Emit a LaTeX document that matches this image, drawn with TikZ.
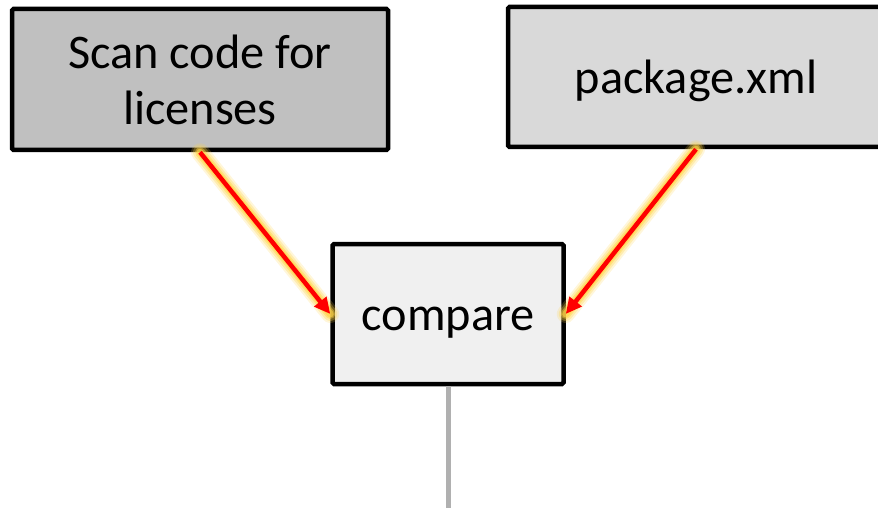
\documentclass[tikz,border=0pt]{standalone}
\usepackage{fontspec}
\setmainfont{Carlito}
\usetikzlibrary{arrows.meta}
\definecolor{boxA}{RGB}{192,192,192}
\definecolor{boxB}{RGB}{217,217,217}
\definecolor{boxC}{RGB}{240,240,240}
\definecolor{glow}{RGB}{255,212,70}
\definecolor{stem}{RGB}{176,176,176}
\tikzset{
  flowbox/.style={draw=black, line width=4.5pt, rounded corners=1.5pt, align=center,
    inner sep=0pt, font=\fontsize{48.3}{56}\selectfont},
  oneline/.style={text height=33pt, text depth=0pt},
  redarrow/.style={draw=red, line width=4.5pt, -{Triangle[length=16pt,width=15pt]}},
  glowline/.style={draw=glow, line cap=round},
}
\begin{document}
\begin{tikzpicture}[x=1pt,y=-1pt]
\useasboundingbox (0,0) rectangle (878,508);
\node[flowbox, fill=boxA, minimum width=376pt, minimum height=141pt] (scan) at (200,79.5) {Scan code for\\licenses};
\node[flowbox, oneline, fill=boxB, minimum width=376pt, minimum height=140pt] (pkg) at (696,77) {package.xml};
\node[flowbox, oneline, fill=boxC, minimum width=231pt, minimum height=140pt] (cmp) at (448,314) {compare};
\coordinate (out) at (448,510);
\draw[stem, line width=5pt] (cmp.south) -- (out);
\foreach \w/\o in {18/0.2, 14/0.3, 10/0.45, 7/0.6} {
  \draw[glowline, line width=\w pt, opacity=\o] (scan.south) -- (cmp.west);
  \draw[glowline, line width=\w pt, opacity=\o] (pkg.south) -- (cmp.east);
}
\draw[redarrow] (scan.south) -- (cmp.west);
\draw[redarrow] (pkg.south) -- (cmp.east);
\end{tikzpicture}
\end{document}
